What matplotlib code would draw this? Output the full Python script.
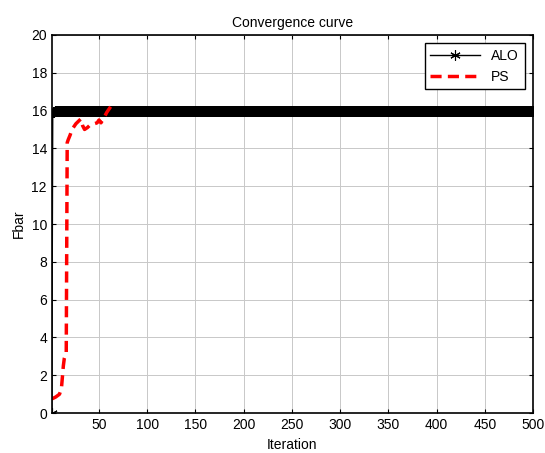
import numpy as np
import matplotlib
matplotlib.use("Agg")
import matplotlib.pyplot as plt

plt.rcParams['font.family'] = ['Liberation Sans', 'DejaVu Sans']
plt.rcParams['font.size'] = 10

# ALO best value per iteration (500 iterations)
alo_iter = np.arange(1, 501)
alo_start = [0.0, 15.9, 15.9]
alo_level = 16.0
alo_fbar = alo_start + [alo_level] * (len(alo_iter) - len(alo_start))

# PS convergence history
ps_iter = [1, 5, 9, 11, 12, 13, 14, 16, 17, 18, 20, 22, 26, 30, 31, 33, 35,
           38, 40, 45, 48, 50, 52, 55, 58, 62]
ps_fbar = [0.75, 0.85, 1.0, 1.3, 1.9, 2.5, 2.9, 3.2, 14.3, 14.45, 14.7, 15.0,
           15.3, 15.5, 15.55, 15.2, 15.0, 15.1, 15.2, 15.3, 15.35, 15.5, 15.35,
           15.6, 15.9, 16.2]

xticks = [50, 100, 150, 200, 250, 300, 350, 400, 450, 500]
yticks = [0, 2, 4, 6, 8, 10, 12, 14, 16, 18, 20]

fig = plt.figure(figsize=(5.45, 4.53), dpi=100)
ax = fig.add_axes([0.095, 0.088, 0.883, 0.835])

ax.plot(alo_iter, alo_fbar, color='black', linewidth=1,
        marker=(6, 2, 0), markersize=7.5, markeredgewidth=0.8, label='ALO')
ax.plot(ps_iter, ps_fbar, color='red', linestyle='--', linewidth=2.5,
        dashes=(3.2, 1.8), label='PS')

ax.set_xlim(1, 500)
ax.set_ylim(0, 20)
ax.set_xticks(xticks)
ax.set_yticks(yticks)
ax.grid(True, color='#c8c8c8', linewidth=0.7)
ax.set_axisbelow(True)
ax.tick_params(direction='in', top=True, right=True, length=3, width=0.8)
for s in ax.spines.values():
    s.set_linewidth(1.2)

ax.set_title('Convergence curve', fontsize=10)
ax.set_xlabel('Iteration', fontsize=10)
ax.set_ylabel('Fbar', fontsize=10)

leg = ax.legend(loc='upper right', fancybox=False, framealpha=1,
                edgecolor='black', handlelength=3.6, borderaxespad=0.6)
leg.get_frame().set_linewidth(1.0)

fig.savefig('out.png', dpi=100)
